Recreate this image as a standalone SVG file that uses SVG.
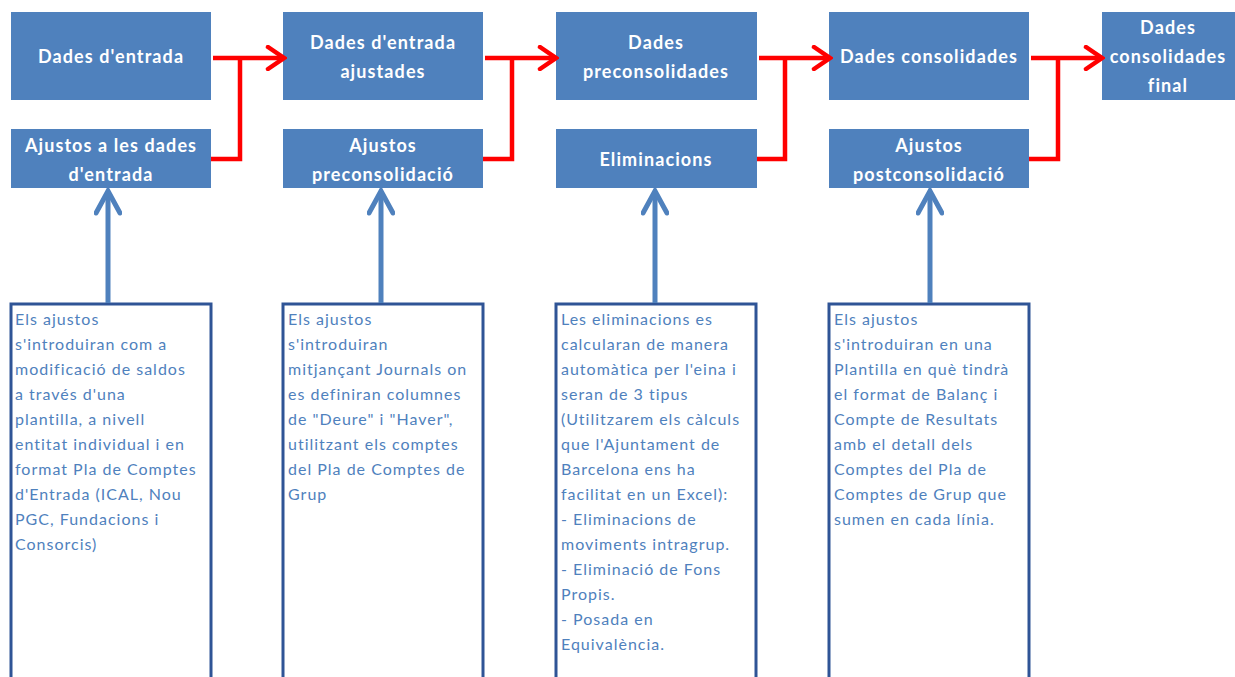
<svg xmlns="http://www.w3.org/2000/svg" width="1235" height="677" viewBox="0 0 1235 677">
<defs>
<style>
.box{fill:#4F81BD}
.t{font-family:Lato,"Open Sans","Liberation Sans",sans-serif;font-weight:bold;font-size:18px;fill:#fff;text-anchor:middle;letter-spacing:1.1px}
.note{fill:#fff;stroke:#2F5496;stroke-width:3}
.b{font-family:Lato,"Open Sans","Liberation Sans",sans-serif;font-size:16px;fill:#4F81BD;letter-spacing:1px}
.red{fill:none;stroke:#FF0000;stroke-width:4.5;stroke-linejoin:miter}
.blue{fill:none;stroke:#4F81BD;stroke-width:5}
</style>
<marker id="ra" viewBox="0 0 22 26" refX="19" refY="13" markerWidth="22" markerHeight="26" markerUnits="userSpaceOnUse" orient="auto">
<path d="M3,2 L19,13 L3,24" fill="none" stroke="#FF0000" stroke-width="4.5" stroke-linecap="round"/>
</marker>
<marker id="ba" viewBox="0 0 30 28" refX="26" refY="14" markerWidth="30" markerHeight="28" markerUnits="userSpaceOnUse" orient="auto">
<path d="M4,2 L26,14 L4,26" fill="none" stroke="#4F81BD" stroke-width="5" stroke-linecap="round"/>
</marker>
</defs>
<rect width="1235" height="677" fill="#fff"/>

<g id="n-dades-entrada"><rect class="box" x="11" y="12" width="200" height="88"/><text class="t" x="111" y="63">Dades d'entrada</text></g>
<g id="n-ajustos-entrada"><rect class="box" x="11" y="129" width="200" height="59"/><text class="t" x="111" y="152">Ajustos a les dades</text><text class="t" x="111" y="181">d'entrada</text></g>
<g id="n-dades-ajustades"><rect class="box" x="283" y="12" width="200" height="88"/><text class="t" x="383" y="49">Dades d'entrada</text><text class="t" x="383" y="78">ajustades</text></g>
<g id="n-ajustos-precons"><rect class="box" x="283" y="129" width="200" height="59"/><text class="t" x="383" y="152">Ajustos</text><text class="t" x="383" y="181">preconsolidació</text></g>
<g id="n-dades-precons"><rect class="box" x="556" y="12" width="201" height="88"/><text class="t" x="656" y="49">Dades</text><text class="t" x="656" y="78">preconsolidades</text></g>
<g id="n-eliminacions"><rect class="box" x="556" y="129" width="201" height="59"/><text class="t" x="656" y="166">Eliminacions</text></g>
<g id="n-dades-cons"><rect class="box" x="829" y="12" width="200" height="88"/><text class="t" x="929" y="63">Dades consolidades</text></g>
<g id="n-ajustos-postcons"><rect class="box" x="829" y="129" width="200" height="59"/><text class="t" x="929" y="152">Ajustos</text><text class="t" x="929" y="181">postconsolidació</text></g>
<g id="n-dades-final"><rect class="box" x="1102" y="12" width="133" height="88"/><text class="t" x="1168" y="34">Dades</text><text class="t" x="1168" y="63">consolidades</text><text class="t" x="1168" y="92">final</text></g>

<g id="note-1"><rect class="note" x="11" y="304" width="200" height="390"/>
<text class="b" x="15"><tspan x="15" y="325">Els ajustos</tspan><tspan x="15" y="350">s'introduiran com a</tspan><tspan x="15" y="375">modificació de saldos</tspan><tspan x="15" y="400">a través d'una</tspan><tspan x="15" y="425">plantilla, a nivell</tspan><tspan x="15" y="450">entitat individual i en</tspan><tspan x="15" y="475">format Pla de Comptes</tspan><tspan x="15" y="500">d'Entrada (ICAL, Nou</tspan><tspan x="15" y="525">PGC, Fundacions i</tspan><tspan x="15" y="550">Consorcis)</tspan></text></g>
<g id="note-2"><rect class="note" x="283" y="304" width="200" height="390"/>
<text class="b" x="288"><tspan x="288" y="325">Els ajustos</tspan><tspan x="288" y="350">s'introduiran</tspan><tspan x="288" y="375">mitjançant Journals on</tspan><tspan x="288" y="400">es definiran columnes</tspan><tspan x="288" y="425">de "Deure" i "Haver",</tspan><tspan x="288" y="450">utilitzant els comptes</tspan><tspan x="288" y="475">del Pla de Comptes de</tspan><tspan x="288" y="500">Grup</tspan></text></g>
<g id="note-3"><rect class="note" x="556" y="304" width="200" height="390"/>
<text class="b" x="561"><tspan x="561" y="325">Les eliminacions es</tspan><tspan x="561" y="350">calcularan de manera</tspan><tspan x="561" y="375">automàtica per l'eina i</tspan><tspan x="561" y="400">seran de 3 tipus</tspan><tspan x="561" y="425">(Utilitzarem els càlculs</tspan><tspan x="561" y="450">que l'Ajuntament de</tspan><tspan x="561" y="475">Barcelona ens ha</tspan><tspan x="561" y="500">facilitat en un Excel):</tspan><tspan x="561" y="525">- Eliminacions de</tspan><tspan x="561" y="550">moviments intragrup.</tspan><tspan x="561" y="575">- Eliminació de Fons</tspan><tspan x="561" y="600">Propis.</tspan><tspan x="561" y="625">- Posada en</tspan><tspan x="561" y="650">Equivalència.</tspan></text></g>
<g id="note-4"><rect class="note" x="829" y="304" width="200" height="390"/>
<text class="b" x="834"><tspan x="834" y="325">Els ajustos</tspan><tspan x="834" y="350">s'introduiran en una</tspan><tspan x="834" y="375">Plantilla en què tindrà</tspan><tspan x="834" y="400">el format de Balanç i</tspan><tspan x="834" y="425">Compte de Resultats</tspan><tspan x="834" y="450">amb el detall dels</tspan><tspan x="834" y="475">Comptes del Pla de</tspan><tspan x="834" y="500">Comptes de Grup que</tspan><tspan x="834" y="525">sumen en cada línia.</tspan></text></g>

<g id="connectors">
<path class="red" d="M213,58 H284" marker-end="url(#ra)"/>
<path class="red" d="M211,159 H240 V58"/>
<path class="red" d="M485,58 H556" marker-end="url(#ra)"/>
<path class="red" d="M483,159 H512 V58"/>
<path class="red" d="M759,58 H830" marker-end="url(#ra)"/>
<path class="red" d="M757,159 H785 V58"/>
<path class="red" d="M1031,58 H1102" marker-end="url(#ra)"/>
<path class="red" d="M1029,159 H1058 V58"/>
<path class="blue" d="M108,303 V191" marker-end="url(#ba)"/>
<path class="blue" d="M381,303 V191" marker-end="url(#ba)"/>
<path class="blue" d="M655,303 V191" marker-end="url(#ba)"/>
<path class="blue" d="M930,303 V191" marker-end="url(#ba)"/>
</g>
</svg>
